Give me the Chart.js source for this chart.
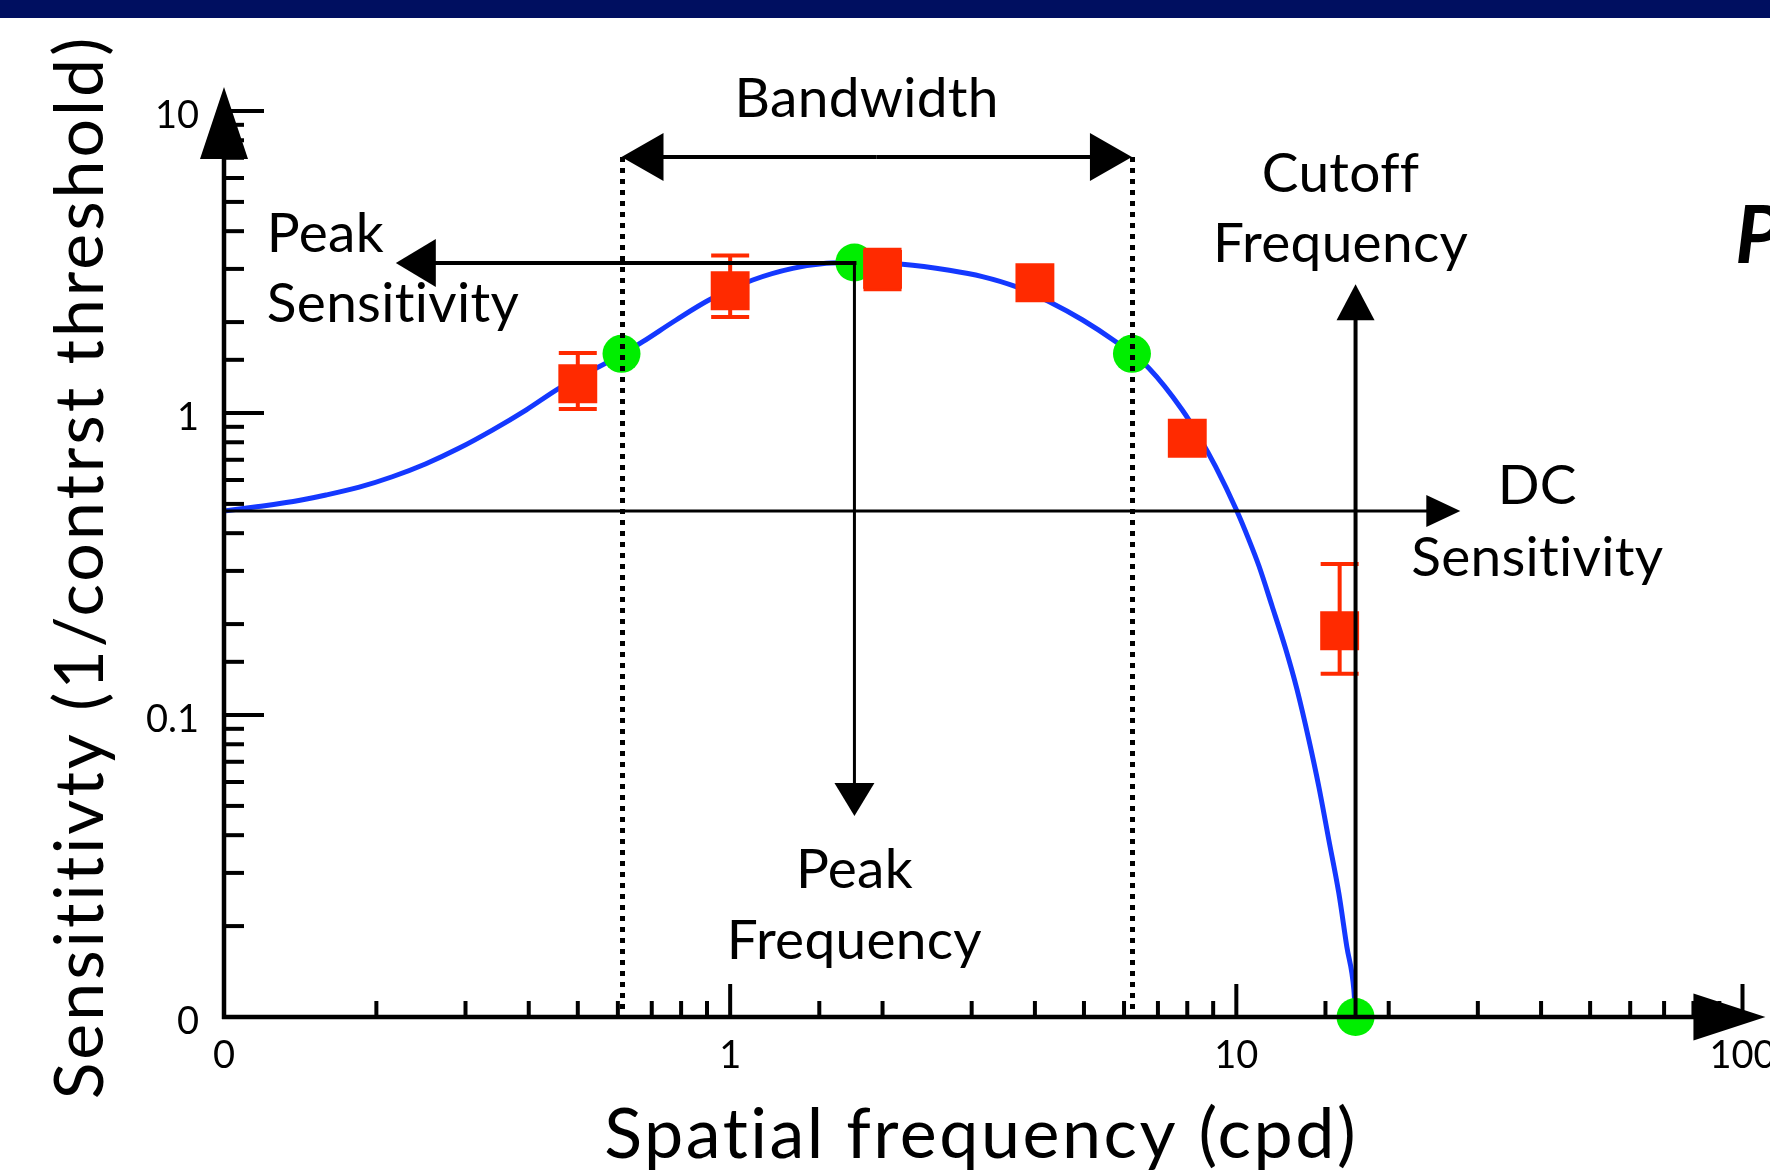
<!DOCTYPE html>
<html>
<head>
<meta charset="utf-8">
<title>Contrast sensitivity</title>
<script src="https://cdn.jsdelivr.net/npm/chart.js@4.4.1/dist/chart.umd.min.js"></script>
<style>
  html, body { margin: 0; padding: 0; background: #fff; }
  #wrap { position: relative; width: 1770px; height: 1172px; overflow: hidden; }
  #topbar { position: absolute; left: 0; top: 0; width: 1770px; height: 18px; background: #000f60; }
  canvas { position: absolute; left: 0; top: 0; }
</style>
</head>
<body>
<div id="wrap">
  <canvas id="csf" width="1770" height="1172"></canvas>
  <div id="topbar"></div>
</div>
<script>
// model curve (cpd -> sensitivity)
const curveFreq = [0.1, 0.117, 0.137, 0.159, 0.185, 0.215, 0.25, 0.291, 0.339, 0.395, 0.459,
  0.614, 0.672, 0.782, 0.91, 1.108, 1.329, 1.547, 1.76, 2.19, 2.71, 3.15, 3.67, 4.27, 4.97,
  5.78, 6.22, 6.72, 7.82, 8.44, 9.1, 10.0, 10.59, 11.08, 11.76, 12.51, 13.17, 13.91, 14.56,
  15.23, 15.94, 16.53, 17.07, 17.2];
const curveSens = [0.474, 0.49, 0.509, 0.535, 0.568, 0.615, 0.678, 0.764, 0.878, 1.023, 1.207,
  1.57, 1.722, 2.032, 2.37, 2.757, 3.013, 3.13, 3.15, 3.108, 2.97, 2.83, 2.62, 2.336, 2.032,
  1.722, 1.57, 1.406, 1.023, 0.835, 0.664, 0.478, 0.38, 0.312, 0.23, 0.166, 0.122, 0.0827, 0.0577,
  0.0386, 0.0257, 0.0171, 0.0123, 0.01];

// measured points (red squares)
const dataFreq = [0.5, 1, 2, 4, 8, 16];
const dataSens = [1.25, 2.54, 2.99, 2.70, 0.825, 0.19];

// error bars
const errFreq = [0.5, 1, 2, 16];
const errHigh = [1.58, 3.32, 3.47, 0.316];
const errLow = [1.03, 2.08, 2.57, 0.137];

// marked points on the curve (green)
const markFreq = [0.61, 1.76, 6.22, 17.2];
const markSens = [1.57, 3.15, 1.57, 0.01];

// annotation values
const peakFreq = 1.76, peakSens = 3.14;
const peakSensEnd = 0.2185, peakFreqEnd = 0.0463;
const bandLow = 0.61, bandHigh = 6.22, bandLevel = 7.04;
const dcSens = 0.474, dcEnd = 27.7;
const cutoffFreq = 17.2, cutoffTop = 2.67;

// axes
const xMin = 0.1, xMax = 100, xArrowEnd = 111;
const yMin = 0.01, yMax = 10, yArrowEnd = 12;
const xTickValues = [0.1, 1, 10, 100];
const xTickLabels = ['0', '1', '10', '100'];
const yTickValues = [0.01, 0.1, 1, 10];
const yTickLabels = ['0', '0.1', '1', '10'];
const xTitle = 'Spatial frequency (cpd)';
const yTitle = 'Sensititivty (1/contrst threshold)';

const FONT = 'Lato';

function tickText(value, values, labels) {
    for (let i = 0; i < values.length; i++) {
        if (Math.abs(Math.log10(value) - Math.log10(values[i])) < 1e-6) return labels[i];
    }
    return '';
}

function isDecade(v) {
    const l = Math.log10(v);
    return Math.abs(l - Math.round(l)) < 1e-6;
}

function head(ctx, tx, ty, dx, dy, len, wid) {
    const bx = tx - dx * len, by = ty - dy * len;
    ctx.beginPath();
    ctx.moveTo(tx, ty);
    ctx.lineTo(bx - dy * wid / 2, by + dx * wid / 2);
    ctx.lineTo(bx + dy * wid / 2, by - dx * wid / 2);
    ctx.closePath();
    ctx.fill();
}

// line from (x0,y0) to (x1,y1) with a filled head at (x1,y1)
function arrow(ctx, x0, y0, x1, y1, lw, len, wid) {
    const d = Math.hypot(x1 - x0, y1 - y0);
    const dx = (x1 - x0) / d, dy = (y1 - y0) / d;
    ctx.lineWidth = lw;
    ctx.beginPath();
    ctx.moveTo(x0, y0);
    ctx.lineTo(x1 - dx * len * 0.9, y1 - dy * len * 0.9);
    ctx.stroke();
    head(ctx, x1, y1, dx, dy, len, wid);
}

const sketch = {
    id: 'sketch',
    afterDatasetsDraw(chart) {
        const ctx = chart.ctx;
        const xs = chart.scales.x, ys = chart.scales.y;
        const X = v => xs.getPixelForValue(v);
        const Y = v => ys.getPixelForValue(v);
        const ox = X(xMin), oy = Y(yMin);

        ctx.save();
        ctx.fillStyle = '#000';
        ctx.strokeStyle = '#000';
        ctx.lineCap = 'butt';

        // tick marks, inside the axes
        ctx.lineWidth = 4;
        ys.ticks.forEach(t => {
            const y = Y(t.value);
            ctx.beginPath();
            ctx.moveTo(ox, y);
            ctx.lineTo(ox + (isDecade(t.value) ? 40 : 20), y);
            ctx.stroke();
        });
        xs.ticks.forEach(t => {
            const x = X(t.value);
            ctx.beginPath();
            ctx.moveTo(x, oy);
            ctx.lineTo(x, oy - (isDecade(t.value) ? 33 : 16));
            ctx.stroke();
        });

        // axes with arrow heads
        arrow(ctx, ox, oy + 2, ox, Y(yArrowEnd), 4.5, 72, 48);
        arrow(ctx, ox - 2, oy, X(xArrowEnd), oy, 4.5, 72, 47);

        // bandwidth: dotted limits and double arrow
        ctx.save();
        ctx.setLineDash([5, 6]);
        ctx.lineWidth = 5;
        [bandLow, bandHigh].forEach(f => {
            const x = Math.round(X(f)) + 0.5;
            ctx.beginPath();
            ctx.moveTo(x, Math.round(Y(bandLevel)));
            ctx.lineTo(x, oy);
            ctx.stroke();
        });
        ctx.restore();
        const bMid = (X(bandLow) + X(bandHigh)) / 2;
        arrow(ctx, bMid, Y(bandLevel), X(bandLow), Y(bandLevel), 4, 42, 48);
        arrow(ctx, bMid, Y(bandLevel), X(bandHigh), Y(bandLevel), 4, 42, 48);

        // peak sensitivity / peak frequency
        arrow(ctx, X(peakFreq) + 2, Y(peakSens), X(peakSensEnd), Y(peakSens), 4, 40, 48);
        arrow(ctx, X(peakFreq), Y(peakSens) - 2, X(peakFreq), Y(peakFreqEnd), 3, 33, 40);

        // DC sensitivity
        arrow(ctx, ox, Y(dcSens), X(dcEnd), Y(dcSens), 3, 34, 32);

        // cutoff frequency
        arrow(ctx, X(cutoffFreq), oy, X(cutoffFreq), Y(cutoffTop), 4, 36, 38);

        // labels
        ctx.letterSpacing = '0.3px';
        ctx.font = '55px ' + FONT;
        ctx.textBaseline = 'alphabetic';
        ctx.textAlign = 'center';
        ctx.fillText('Bandwidth', bMid - 10, Y(bandLevel) - 40);

        ctx.textAlign = 'left';
        ctx.fillText('Peak', X(peakSensEnd) - 129, Y(peakSens) - 11);
        ctx.fillText('Sensitivity', X(peakSensEnd) - 129, Y(peakSens) + 59);

        ctx.textAlign = 'center';
        ctx.fillText('Cutoff', X(cutoffFreq) - 15, Y(cutoffTop) - 92);
        ctx.fillText('Frequency', X(cutoffFreq) - 15, Y(cutoffTop) - 22);

        ctx.fillText('DC', X(dcEnd) + 77, Y(dcSens) - 7);
        ctx.fillText('Sensitivity', X(dcEnd) + 77, Y(dcSens) + 65);

        ctx.fillText('Peak', X(peakFreq), Y(peakFreqEnd) + 72);
        ctx.fillText('Frequency', X(peakFreq), Y(peakFreqEnd) + 143);

        // axis titles
        ctx.letterSpacing = '2.5px';
        ctx.font = '70px ' + FONT;
        ctx.fillText(xTitle, (xs.left + xs.right) / 2 - 2, 1158);

        ctx.save();
        ctx.letterSpacing = '3px';
        ctx.font = '68px ' + FONT;
        ctx.translate(103, (ys.top + ys.bottom) / 2 + 3);
        ctx.rotate(-Math.PI / 2);
        ctx.fillText(yTitle, 0, 0);
        ctx.restore();

        ctx.letterSpacing = '0px';
        ctx.textAlign = 'left';
        ctx.font = 'italic bold 81px ' + FONT;
        ctx.fillText('P', 1735, 263);

        ctx.restore();
    }
};

const errData = [];
errFreq.forEach((f, i) => {
    errData.push({ x: f, y: errLow[i] }, { x: f, y: errHigh[i] }, { x: f, y: null });
});

new Chart(document.getElementById('csf'), {
    type: 'scatter',
    data: {
        datasets: [
            {
                label: 'model',
                data: curveFreq.map((f, i) => ({ x: f, y: curveSens[i] })),
                showLine: true,
                borderColor: '#1438ff',
                borderWidth: 5,
                pointRadius: 0,
                cubicInterpolationMode: 'monotone',
                clip: false,
                order: 4
            },
            {
                label: 'marks',
                data: markFreq.map((f, i) => ({ x: f, y: markSens[i] })),
                pointStyle: 'circle',
                pointRadius: 19,
                backgroundColor: '#00ee00',
                borderWidth: 0,
                clip: false,
                order: 3
            },
            {
                label: 'error',
                data: errData,
                showLine: true,
                spanGaps: false,
                borderColor: '#ff2a00',
                borderWidth: 4,
                pointStyle: 'line',
                pointRadius: 19,
                pointBorderWidth: 4,
                pointBorderColor: '#ff2a00',
                clip: false,
                order: 2
            },
            {
                label: 'data',
                data: dataFreq.map((f, i) => ({ x: f, y: dataSens[i] })),
                pointStyle: 'rect',
                pointRadius: 27.5,
                backgroundColor: '#ff2a00',
                borderWidth: 0,
                clip: false,
                order: 1
            }
        ]
    },
    options: {
        responsive: false,
        devicePixelRatio: 1,
        animation: false,
        events: [],
        layout: { padding: { left: 0, right: 26, top: 111, bottom: 0 } },
        plugins: { legend: { display: false }, tooltip: { enabled: false } },
        scales: {
            x: {
                type: 'logarithmic',
                position: 'bottom',
                min: xMin,
                max: xMax,
                grid: { display: false, drawTicks: false },
                border: { display: false },
                ticks: {
                    autoSkip: false,
                    maxRotation: 0,
                    minRotation: 0,
                    padding: 16,
                    color: '#000',
                    font: { family: FONT, size: 38 },
                    callback: v => tickText(v, xTickValues, xTickLabels)
                },
                title: { display: false, text: xTitle },
                afterFit: s => { s.height = 155; s.paddingLeft = 0; s.paddingRight = 0; }
            },
            y: {
                type: 'logarithmic',
                position: 'left',
                min: yMin,
                max: yMax,
                grid: { display: false, drawTicks: false },
                border: { display: false },
                ticks: {
                    autoSkip: false,
                    padding: 25,
                    labelOffset: 5,
                    color: '#000',
                    font: { family: FONT, size: 38 },
                    callback: v => tickText(v, yTickValues, yTickLabels)
                },
                title: { display: false, text: yTitle },
                afterFit: s => { s.width = 224; s.paddingTop = 0; s.paddingBottom = 0; }
            }
        }
    },
    plugins: [sketch]
});
</script>
</body>
</html>
